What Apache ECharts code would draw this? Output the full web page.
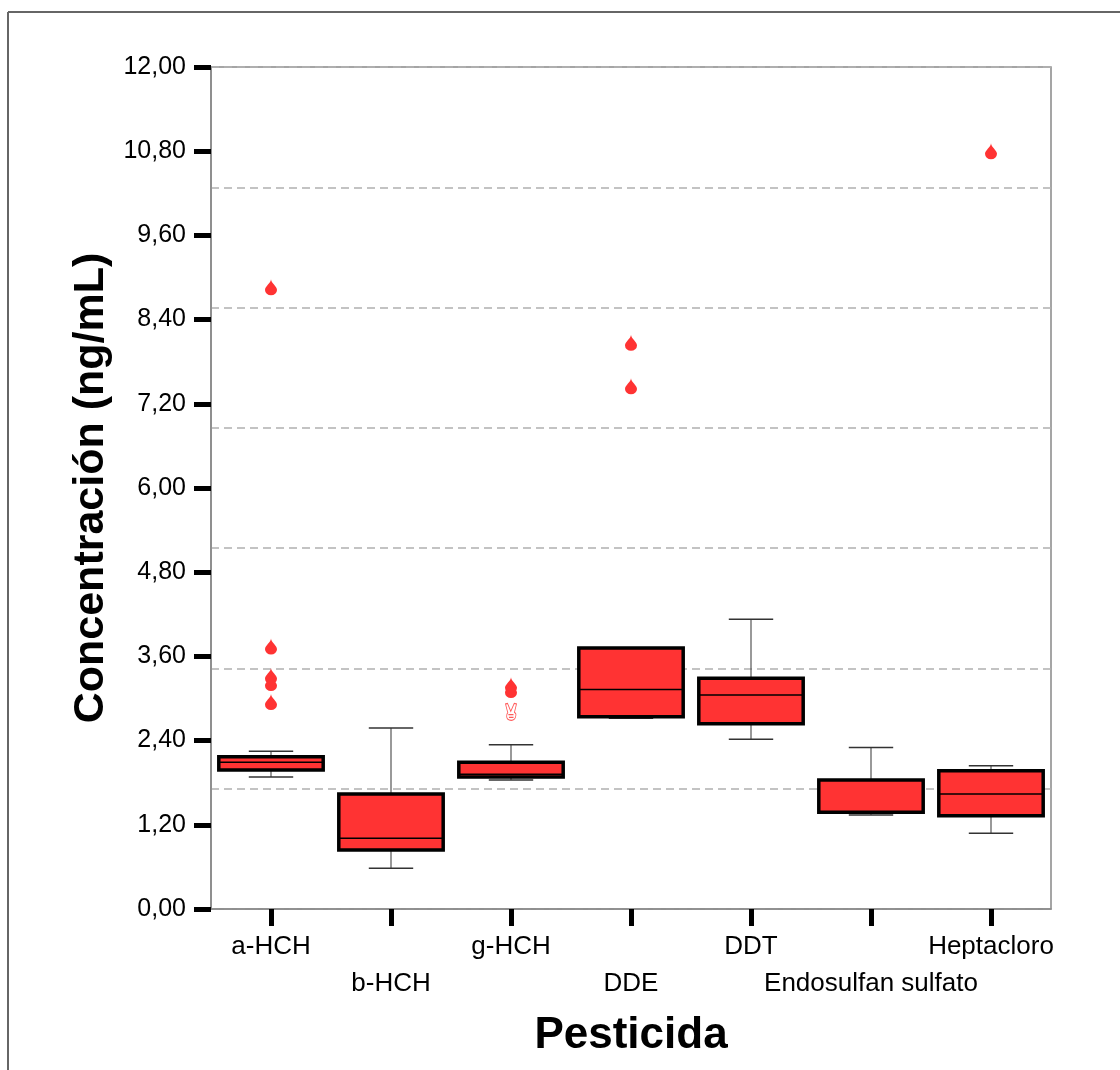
<!DOCTYPE html>
<html>
<head>
<meta charset="utf-8">
<script src="https://cdn.jsdelivr.net/npm/echarts@6/dist/echarts.min.js"></script>
<style>
html,body{margin:0;padding:0;background:#fff;}
#chart{width:1120px;height:1070px;}
</style>
</head>
<body>
<div id="chart"></div>
<script>
const categories = ['a-HCH','b-HCH','g-HCH','DDE','DDT','Endosulfan sulfato','Heptacloro'];
const whiskerLow  = [1.88, 0.58, 1.84, 2.72, 2.42, 1.34, 1.08];
const q1          = [1.98, 0.84, 1.88, 2.74, 2.64, 1.38, 1.33];
const median      = [2.09, 1.01, 1.92, 3.13, 3.05, 1.38, 1.64];
const q3          = [2.17, 1.64, 2.09, 3.72, 3.29, 1.84, 1.97];
const whiskerHigh = [2.25, 2.58, 2.34, 3.72, 4.13, 2.30, 2.04];
const outliers = [[0,8.86],[0,3.74],[0,3.32],[0,3.22],[0,2.95],[2,3.19],[2,3.12],[3,8.07],[3,7.45],[6,10.80]];
const extremes = [[2,2.81]];
const yTicks = {min:0, max:12, interval:1.2};
const refLines = {min:0, max:12, interval:12/7};

const boxData = categories.map((c,i)=>[i, whiskerLow[i], q1[i], median[i], q3[i], whiskerHigh[i]]);

function renderBox(params, api){
  const i = api.value(0);
  const band = api.size([1,0])[0];
  const half = band*0.435;
  const cap = band*0.185;
  const pLow = api.coord([i, api.value(1)]);
  const pQ1 = api.coord([i, api.value(2)]);
  const pMed = api.coord([i, api.value(3)]);
  const pQ3 = api.coord([i, api.value(4)]);
  const pHigh = api.coord([i, api.value(5)]);
  const x = pMed[0];
  const wStyle = {stroke:'#555', lineWidth:1.2};
  const cStyle = {stroke:'#333', lineWidth:1.5};
  return {type:'group', children:[
    {type:'line', shape:{x1:x,y1:pQ3[1],x2:x,y2:pHigh[1]}, style:wStyle},
    {type:'line', shape:{x1:x,y1:pQ1[1],x2:x,y2:pLow[1]}, style:wStyle},
    {type:'line', shape:{x1:x-cap,y1:pHigh[1],x2:x+cap,y2:pHigh[1]}, style:cStyle},
    {type:'line', shape:{x1:x-cap,y1:pLow[1],x2:x+cap,y2:pLow[1]}, style:cStyle},
    {type:'rect', shape:{x:x-half,y:pQ3[1],width:2*half,height:pQ1[1]-pQ3[1]}, style:{fill:'#ff3333', stroke:'#000', lineWidth:3.5}},
    {type:'line', shape:{x1:x-half,y1:pMed[1],x2:x+half,y2:pMed[1]}, style:{stroke:'#000', lineWidth:1.5}}
  ]};
}

const chart = echarts.init(document.getElementById('chart'));
chart.setOption({
  animation:false,
  backgroundColor:'#fff',
  graphic:[
    {type:'line', shape:{x1:8,y1:12,x2:8,y2:1070}, style:{stroke:'#666', lineWidth:2}},
    {type:'line', shape:{x1:8,y1:12,x2:1120,y2:12}, style:{stroke:'#666', lineWidth:2}}
  ],
  grid:{left:211, right:69, top:67, bottom:161, show:true, borderColor:'#888', borderWidth:1.5, backgroundColor:'transparent'},
  xAxis:{
    type:'category', data:categories, boundaryGap:true,
    name:'Pesticida', nameLocation:'middle', nameGap:105,
    nameTextStyle:{fontFamily:'Liberation Sans', fontWeight:'bold', fontSize:44, color:'#000'},
    axisLine:{lineStyle:{color:'#888', width:1.5}},
    axisTick:{show:true, interval:0, alignWithLabel:true, length:17, lineStyle:{color:'#000', width:5}},
    axisLabel:{interval:0, margin:19, fontFamily:'Liberation Sans', fontSize:26, color:'#000', lineHeight:37,
      formatter:(v,i)=> i%2 ? '\n'+v : v}
  },
  yAxis:[{
    type:'value', min:yTicks.min, max:yTicks.max, interval:yTicks.interval,
    name:'Concentración (ng/mL)', nameLocation:'middle', nameGap:78, nameRotate:90,
    nameTextStyle:{fontFamily:'Liberation Sans', fontWeight:'bold', fontSize:43, color:'#000'},
    axisLine:{show:true, lineStyle:{color:'#888', width:1.5}},
    axisTick:{show:true, length:17, lineStyle:{color:'#000', width:5}},
    splitLine:{show:false},
    axisLabel:{margin:25, fontFamily:'Liberation Sans', fontSize:25, color:'#000',
      formatter:v=>v.toFixed(2).replace('.',',')}
  },{
    type:'value', min:refLines.min, max:refLines.max, interval:refLines.interval, position:'left',
    axisLine:{show:false}, axisTick:{show:false}, axisLabel:{show:false},
    splitLine:{show:true, lineStyle:{color:'#b0b0b0', width:1.5, type:[8,5]}}
  }],
  series:[
    {type:'custom', renderItem:renderBox, data:boxData, encode:{x:0, y:[1,2,3,4,5]}, z:3},
    {type:'scatter', data:outliers, symbol:'path://M6,0 C6,4 12,8 12,12 A6,6 0 1 1 0,12 C0,8 6,4 6,0 Z',
      symbolSize:[12,16], itemStyle:{color:'#ff3333', opacity:1}, z:4},
    {type:'scatter', data:extremes,
      symbol:'path://M3,10 L1,1.5 L2.8,0.8 L5.6,8.6 L8.6,0.8 L10.6,1.4 L8.8,9.6 Q10.5,10.5 10,13 Q9.5,17.5 6,17.5 Q2,17.5 2,13.5 Q2,11 3,10 Z M3.5,12 L8,12 M4,14.5 L8,14.5',
      symbolSize:[11,17], itemStyle:{color:'#fff', borderColor:'#ff5a5a', borderWidth:1, opacity:1}, z:4}
  ]
});
</script>
</body>
</html>
